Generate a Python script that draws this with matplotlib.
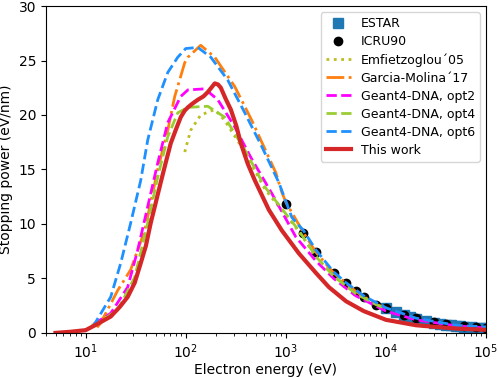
import numpy as np
import matplotlib
matplotlib.use('Agg')
import matplotlib.pyplot as plt

# energies in eV, stopping power in eV/nm
this_E = [5.0, 7, 10, 13, 17.8, 22, 26.3, 30.9, 35.5, 40, 44.7, 50, 56.2, 63, 70.8, 80, 89.1, 97.7, 105, 115,
          132, 150, 166, 180, 195, 210, 224, 250, 282, 320, 355, 417, 490, 676, 912, 1349, 2000, 2692, 4000,
          6000, 10000, 20000, 50000, 100000]
this_S = [0.0, 0.1, 0.25, 0.8, 1.5, 2.4, 3.3, 4.6, 6.4, 8.0, 10.1, 11.9, 13.8, 15.6, 17.4, 18.7, 19.8, 20.4, 20.7, 21.0,
          21.4, 21.7, 22.1, 22.5, 22.9, 22.8, 22.5, 21.5, 20.5, 19.0, 17.4, 15.5, 14.0, 11.3, 9.4, 7.3, 5.5, 4.2, 2.9,
          2.0, 1.2, 0.7, 0.4, 0.28]

opt6_E = [11.8, 14, 17.8, 22.4, 28.2, 35.5, 41.7, 52.5, 66.1, 83.2, 100, 132, 178, 263, 389, 575, 851, 1148,
          1500, 2000, 3000, 4000, 6000, 10000, 20000, 50000, 100000]
opt6_S = [0.55, 1.7, 3.3, 6.4, 10.1, 14.0, 17.7, 21.4, 23.9, 25.3, 26.1, 26.2, 25.3, 23.2, 20.2, 17.1, 13.8, 10.6,
          9.4, 7.6, 5.6, 4.6, 3.4, 2.3, 1.35, 0.7, 0.55]

gm_E = [13, 14.1, 20.9, 28.2, 38.9, 52.5, 66.1, 77.6, 97.7, 105, 141, 195, 309, 457, 794, 912, 1000, 1500,
        2000, 3000, 5000, 8000, 10000]
gm_S = [0.5, 0.9, 3.9, 5.8, 9.4, 15.0, 18.6, 21.7, 24.8, 25.3, 26.4, 25.3, 22.6, 19.5, 14.7, 12.9, 12.0, 9.2,
        7.4, 5.5, 3.8, 2.6, 2.3]

opt2_E = [12, 17.8, 26.3, 33.1, 41.7, 52.5, 66.1, 89.1, 105, 155, 209, 309, 447, 724, 1259, 2000, 3000, 5000,
          10000, 20000, 50000, 100000]
opt2_S = [0.8, 1.8, 4.2, 7.6, 11.6, 15.6, 19.3, 21.7, 22.3, 22.4, 21.4, 18.9, 16.1, 12.8, 8.8, 6.6, 5.0, 3.4,
          2.0, 1.2, 0.65, 0.45]

opt4_E = [11.5, 13.2, 20.9, 30.9, 41.7, 52.5, 66.1, 83.2, 105, 166, 245, 389, 617, 1349, 2000, 3000, 5000,
          8000, 10000]
opt4_S = [0.7, 0.9, 2.1, 5.1, 10.1, 14.3, 18.0, 20.2, 20.7, 20.8, 19.8, 16.8, 13.4, 9.4, 7.0, 5.2, 3.6,
          2.6, 2.2]

emf_E = [97.7, 112, 141, 195, 245, 389, 617, 1349, 2000, 3000, 5000, 10000]
emf_S = [16.6, 18.6, 20.0, 20.5, 19.5, 16.6, 13.2, 9.3, 7.0, 5.2, 3.6, 2.2]

icru_E = [1000, 1500, 2000, 3000, 4000, 5000, 6000, 8000, 10000, 15000, 20000, 30000, 40000, 60000, 80000, 100000]
icru_S = [11.8, 9.2, 7.4, 5.5, 4.6, 3.8, 3.3, 2.6, 2.25, 1.65, 1.35, 1.0, 0.82, 0.62, 0.5, 0.43]

estar_E = [10000, 12500, 15000, 17500, 20000, 25000, 30000, 35000, 40000, 45000, 50000, 55000, 60000, 70000,
           80000, 90000, 100000]
estar_S = [2.26, 1.89, 1.64, 1.45, 1.30, 1.09, 0.95, 0.84, 0.76, 0.70, 0.65, 0.60, 0.57, 0.51, 0.47, 0.43, 0.41]

fig = plt.figure(figsize=(4.98, 3.77), dpi=100)
ax = fig.add_axes([0.092, 0.117, 0.884, 0.867])

ax.plot(estar_E, estar_S, 's', color='#1f77b4', markersize=6.5, label='ESTAR')
ax.plot(icru_E, icru_S, 'o', color='black', markersize=6, label='ICRU90')
ax.plot(emf_E, emf_S, ':', color='#bcbd22', lw=2, label='Emfietzoglou\u00b405')
ax.plot(gm_E, gm_S, '-.', color='#ff7f0e', lw=2, label='Garcia-Molina\u00b417')
ax.plot(opt2_E, opt2_S, '--', color='#ff00ff', lw=2, label='Geant4-DNA, opt2')
ax.plot(opt4_E, opt4_S, '--', color='#9acd32', lw=2, label='Geant4-DNA, opt4')
ax.plot(opt6_E, opt6_S, '--', color='#1e90ff', lw=2, label='Geant4-DNA, opt6')
ax.plot(this_E, this_S, '-', color='#d62728', lw=3, label='This work')

ax.set_xscale('log')
ax.set_xlim(4, 1e5)
ax.set_ylim(0, 30)
ax.set_xlabel('Electron energy (eV)', fontsize=10, labelpad=1)
ax.set_ylabel('Stopping power (eV/nm)', fontsize=10)
ax.tick_params(labelsize=10)
ax.legend(loc='upper right', fontsize=9, labelspacing=0.4)

fig.savefig('out.png', dpi=100)
